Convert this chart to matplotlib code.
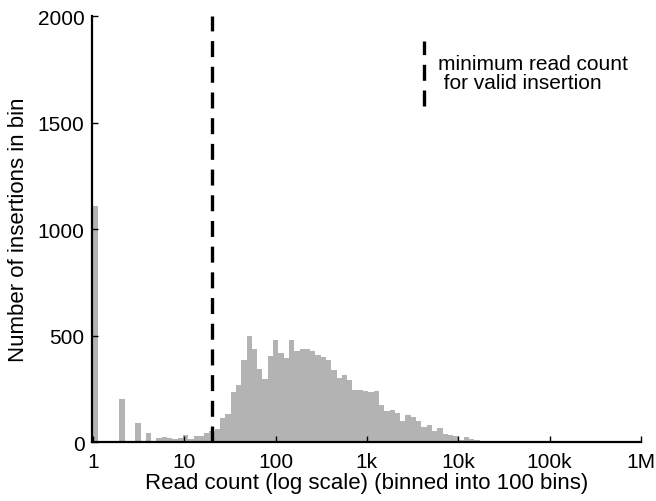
import numpy as np
import matplotlib
matplotlib.use("Agg")
import matplotlib.pyplot as plt
from matplotlib.lines import Line2D

plt.rcParams['font.family'] = ['Liberation Sans', 'DejaVu Sans']

# ---- data ----
# 100 log-spaced bins of read count (log10 from 0 to 5.8)
n_bins = 100
log_min, log_max = 0.0, 5.8
counts = [
    1110, 0, 0, 0, 0, 200, 0, 0, 90, 0,
    42, 0, 19, 23, 20, 16, 19, 33, 14, 28,
    28, 41, 50, 62, 112, 131, 235, 267, 385, 499,
    437, 343, 298, 403, 479, 418, 394, 479, 429, 437,
    437, 428, 409, 400, 386, 339, 302, 315, 293, 244,
    244, 238, 236, 239, 174, 147, 150, 136, 98, 127,
    118, 99, 72, 78, 53, 65, 37, 34, 27, 11,
    23, 14, 9, 6, 5, 2, 1, 0, 0, 0,
    0, 0, 0, 0, 0, 0, 0, 0, 0, 0,
    0, 0, 0, 0, 0, 0, 0, 0, 0, 0,
]
threshold = 20
x_ticks = [1, 10, 100, 1e3, 1e4, 1e5, 1e6]
x_ticklabels = ['1', '10', '100', '1k', '10k', '100k', '1M']
y_ticks = [0, 500, 1000, 1500, 2000]

edges = 10 ** np.linspace(log_min, log_max, n_bins + 1)

# ---- figure ----
fig = plt.figure(figsize=(6.56, 5.02), dpi=100)
ax = fig.add_axes([0.1395, 0.1175, 0.8375, 0.8485])

ax.stairs(counts, edges, fill=True, color='#b3b3b3', linewidth=0)

lw = 2.4
dash = (11.5 / lw, 7.0 / lw)
ax.axvline(threshold, color='black', linewidth=lw, linestyle=(0, dash))

ax.set_xscale('log')
ax.set_xlim(0.965, 1e6)
ax.set_ylim(0, 2000)
ax.set_xticks(x_ticks)
ax.set_xticklabels(x_ticklabels)
ax.set_yticks(y_ticks)
ax.xaxis.set_minor_locator(matplotlib.ticker.NullLocator())

for s in ['top', 'right']:
    ax.spines[s].set_visible(False)
for s in ['left', 'bottom']:
    ax.spines[s].set_linewidth(1.6)

ax.tick_params(direction='in', length=4, width=1, labelsize=15, pad=5)
ax.tick_params(axis='x', pad=7)
ax.set_xlabel('Read count (log scale) (binned into 100 bins)', fontsize=16, labelpad=1)
ax.set_ylabel('Number of insertions in bin', fontsize=16, labelpad=6)

# legend-like annotation
leg_line = Line2D([0.605, 0.605], [0.789, 0.941], transform=ax.transAxes,
                  color='black', linewidth=lw, linestyle=(0, dash))
ax.add_line(leg_line)
ax.text(0.630, 0.866, 'minimum read count\n for valid insertion', transform=ax.transAxes,
        fontsize=15, va='center', ha='left', linespacing=1.0)

fig.savefig('out.png', dpi=100)
